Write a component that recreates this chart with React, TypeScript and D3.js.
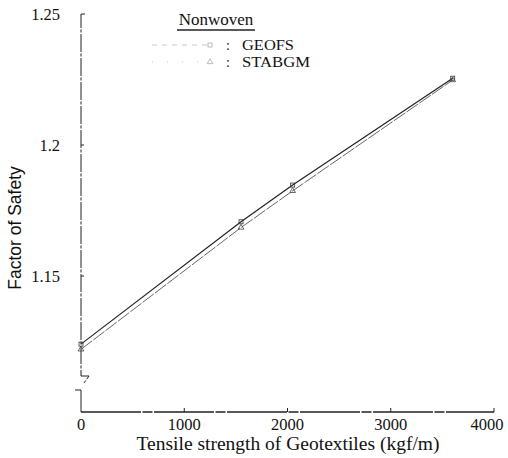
import React from "react";
import * as d3 from "d3";

const strengths = [0, 1550, 2050, 3600];
const geofs = [1.124, 1.1707, 1.1847, 1.2255];
const stabgm = [1.122, 1.1685, 1.1825, 1.2248];
const xTicks = [0, 1000, 2000, 3000, 4000];
const yTicks = [1.15, 1.2, 1.25];
const yTickLabels = ["1.15", "1.2", "1.25"];
const seriesNames = ["GEOFS", "STABGM"];
const legendTitle = "Nonwoven";

export default function App() {
  const W = 508, H = 458;
  const x = d3.scaleLinear().domain([0, 4000]).range([81, 494]);
  const y = d3.scaleLinear().domain([1.15, 1.25]).range([276, 14]);
  const axisY = 412;
  const line = d3.line<number>().x((_, i) => x(strengths[i])).y((d) => y(d));
  const serif = "Liberation Serif, Times New Roman, serif";
  const sans = "Liberation Sans, Arial, sans-serif";
  const x0 = x(0);
  return (
    <svg width={W} height={H} style={{ position: "absolute", left: 0, top: 0, background: "#fff" }}>
      <g stroke="#222" fill="none" strokeWidth={1}>
        <path d={`M${x0 + 4},${y(1.25)} L${x0},${y(1.25)} L${x0},376 L${x0 + 8},376 L${x0 + 3},383`} strokeDasharray="18,1.5,3,1.5" />
        <path d={`M${x0 - 6},390 L${x0},390 L${x0},${axisY}`} />
        {yTicks.slice(0, 2).map((t) => (
          <line key={t} x1={x0} x2={x0 + 3} y1={y(t)} y2={y(t)} />
        ))}
        <line x1={x0} x2={x(4000)} y1={axisY} y2={axisY} strokeWidth={1.4} strokeDasharray="60,1.5,10,1.5" />
        {xTicks.slice(1).map((t) => (
          <line key={t} x1={x(t)} x2={x(t)} y1={axisY} y2={axisY - 4} />
        ))}
      </g>
      {yTicks.map((t, i) => (
        <text key={t} x={60} y={y(t)} dy="0.35em" textAnchor="end" fontFamily={serif} fontSize={16.5} fill="#111">
          {yTickLabels[i]}
        </text>
      ))}
      {xTicks.map((t, i) => (
        <text key={t} x={x(t) - (i === xTicks.length - 1 ? 7 : 0)} y={430} textAnchor="middle" fontFamily={serif} fontSize={16.5} fill="#111">
          {t}
        </text>
      ))}
      <text x={288} y={450} textAnchor="middle" fontFamily={serif} fontSize={19.5} fill="#111">
        Tensile strength of Geotextiles (kgf/m)
      </text>
      <text transform={`translate(21,228) rotate(-90)`} textAnchor="middle" fontFamily={sans} fontSize={17.5} fill="#111">
        Factor of Safety
      </text>
      <path d={line(geofs) || ""} fill="none" stroke="#222" strokeWidth={1.2} />
      <path d={line(stabgm) || ""} fill="none" stroke="#666" strokeWidth={1} strokeDasharray="14,1.5" />
      {geofs.map((v, i) => (
        <rect key={"g" + i} x={x(strengths[i]) - 2} y={y(v) - 2} width={4} height={4} fill="none" stroke="#333" strokeWidth={0.8} />
      ))}
      {stabgm.map((v, i) => (
        <path key={"s" + i} d={d3.symbol(d3.symbolTriangle, 14)() || ""} transform={`translate(${x(strengths[i])},${y(v)})`} fill="none" stroke="#444" strokeWidth={0.8} />
      ))}
      <text x={216} y={25} textAnchor="middle" fontFamily={serif} fontSize={17} fill="#111">
        {legendTitle}
      </text>
      <line x1={177} x2={255} y1={30} y2={30} stroke="#222" strokeWidth={1.5} />
      {seriesNames.map((n, i) => {
        const ly = 45 + i * 17;
        return (
          <g key={n}>
            <line x1={152} x2={212} y1={ly} y2={ly} stroke="#bbb" strokeWidth={0.8} strokeDasharray={i === 0 ? "5,5" : "1,14"} />
            {i === 0 ? (
              <rect x={208} y={ly - 2} width={4} height={4} fill="none" stroke="#aaa" strokeWidth={0.8} />
            ) : (
              <path d={d3.symbol(d3.symbolTriangle, 14)() || ""} transform={`translate(210,${ly})`} fill="none" stroke="#aaa" strokeWidth={0.8} />
            )}
            <text x={226} y={ly} dy="0.35em" fontFamily={serif} fontSize={14} fill="#222">:</text>
            <text x={242} y={ly} dy="0.35em" fontFamily={serif} fontSize={15.5} fill="#111" textLength={i === 0 ? 52 : 68} lengthAdjust="spacingAndGlyphs">{n}</text>
          </g>
        );
      })}
    </svg>
  );
}
